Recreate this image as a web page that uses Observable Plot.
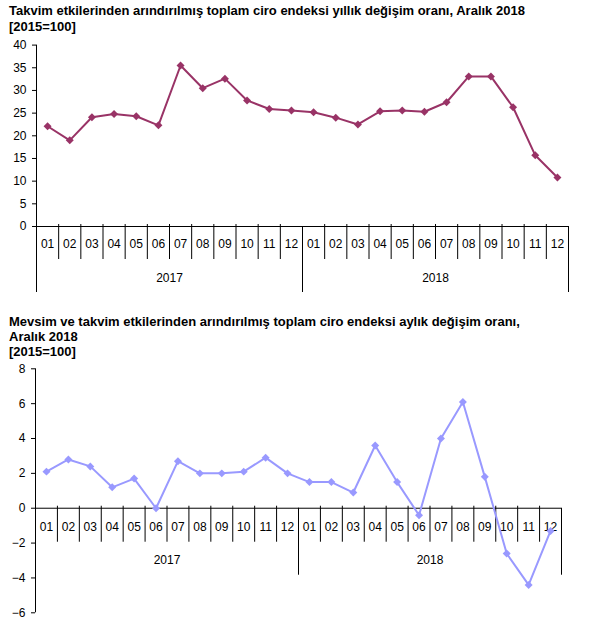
<!DOCTYPE html>
<html>
<head>
<meta charset="utf-8">
<script src="https://cdn.jsdelivr.net/npm/d3@7"></script>
<script src="https://cdn.jsdelivr.net/npm/@observablehq/plot@0.6"></script>
<style>
  html, body { margin: 0; padding: 0; background: #fff; }
  body { width: 607px; height: 627px; position: relative; overflow: hidden; font-family: "Liberation Sans", Arial, sans-serif; }
  .title { position: absolute; left: 9px; font-weight: bold; font-size: 13px; color: #000; white-space: nowrap; }
  .chart { position: absolute; left: 0; }
  svg { font-family: "Liberation Sans", Arial, sans-serif; overflow: visible; }
</style>
</head>
<body>
<div class="title" id="t1" style="top:3px; line-height:16px;">Takvim etkilerinden arındırılmış toplam ciro endeksi yıllık değişim oranı, Aralık 2018<br>[2015=100]</div>
<div class="chart" id="c1" style="top:30px;"></div>
<div class="title" id="t2" style="top:314px; line-height:15px;">Mevsim ve takvim etkilerinden arındırılmış toplam ciro endeksi aylık değişim oranı,<br>Aralık 2018<br>[2015=100]</div>
<div class="chart" id="c2" style="top:355px;"></div>
<script>
const months = ["01","02","03","04","05","06","07","08","09","10","11","12"];
const years = ["2017","2018"];
const annualChange = [22.1, 19.0, 24.1, 24.8, 24.3, 22.3, 35.5, 30.5, 32.6, 27.8, 25.9, 25.6,
                      25.2, 24.0, 22.5, 25.4, 25.6, 25.3, 27.4, 33.1, 33.1, 26.3, 15.7, 10.8];
const monthlyChange = [2.1, 2.8, 2.4, 1.2, 1.7, 0.0, 2.7, 2.0, 2.0, 2.1, 2.9, 2.0,
                       1.5, 1.5, 0.9, 3.6, 1.5, -0.4, 4.0, 6.1, 1.8, -2.6, -4.4, -1.3];
const annualTicks = [0, 5, 10, 15, 20, 25, 30, 35, 40];
const monthlyTicks = [-6, -4, -2, 0, 2, 4, 6, 8];

const labels = years.flatMap(y => months.map(m => ({y, m})));

function build(cfg) {
  const n = cfg.values.length;
  const data = cfg.values.map((v, i) => ({i: i + 0.5, v}));
  const plotH = cfg.height - cfg.marginTop - cfg.marginBottom;
  const pxToUnits = px => px * (cfg.domain[1] - cfg.domain[0]) / plotH;
  const seps = d3.range(0, n + 1);
  const monthSep = seps.filter(s => s % 12 !== 0);
  const yearSep = seps.filter(s => s % 12 === 0);
  const monthLab = labels.map((d, i) => ({i: i + 0.5, t: d.m}));
  const yearLab = years.map((y, k) => ({i: k * 12 + 6, t: y}));
  return Plot.plot({
    width: 607,
    height: cfg.height,
    marginTop: cfg.marginTop,
    marginBottom: cfg.marginBottom,
    marginLeft: cfg.marginLeft,
    marginRight: cfg.marginRight,
    x: {domain: [0, n], axis: null},
    y: {domain: cfg.domain, axis: null},
    style: {fontFamily: "Liberation Sans, Arial, sans-serif", fontSize: "12px", color: "#000"},
    marks: [
      Plot.axisY({ticks: cfg.ticks, label: null, tickSize: 4, tickPadding: 6, fontSize: 12, stroke: "#000"}),
      Plot.ruleX([0], {y1: cfg.domain[0], y2: cfg.domain[1], stroke: "#000"}),
      Plot.ruleY([0], {stroke: "#000"}),
      Plot.ruleX(monthSep, {y1: pxToUnits(2), y2: -pxToUnits(cfg.monthSepPx), stroke: "#000"}),
      Plot.ruleX(yearSep, {y1: 0, y2: -pxToUnits(cfg.yearSepPx), stroke: "#000"}),
      Plot.text(monthLab, {x: "i", y: () => 0, text: "t", dy: cfg.monthDy, fontSize: 12, fill: "#000"}),
      Plot.text(yearLab, {x: "i", y: () => 0, text: "t", dy: cfg.yearDy, fontSize: 12, fill: "#000"}),
      Plot.line(data, {x: "i", y: "v", stroke: cfg.color, strokeWidth: 2}),
      Plot.dot(data, {x: "i", y: "v", symbol: "diamond2", r: 3.6, fill: cfg.color, stroke: "none"})
    ]
  });
}

document.getElementById("c1").appendChild(build({
  values: annualChange, domain: [0, 40], ticks: annualTicks, color: "#993366",
  height: 270, marginTop: 14.6, marginBottom: 74, marginLeft: 36, marginRight: 39,
  monthSepPx: 33, yearSepPx: 66, monthDy: 18, yearDy: 52
}));
document.getElementById("c2").appendChild(build({
  values: monthlyChange, domain: [-6, 8], ticks: monthlyTicks, color: "#9999FF",
  height: 272, marginTop: 13.3, marginBottom: 14.7, marginLeft: 35, marginRight: 46,
  monthSepPx: 34, yearSepPx: 67, monthDy: 19, yearDy: 52
}));
</script>
</body>
</html>
